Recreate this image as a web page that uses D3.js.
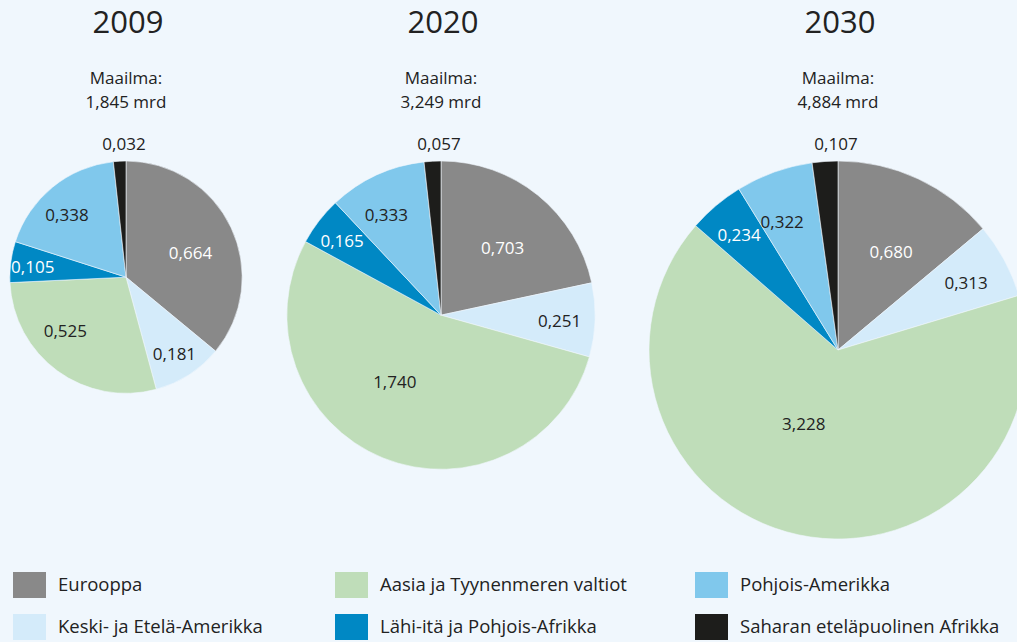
<!DOCTYPE html>
<html>
<head>
<meta charset="utf-8">
<script src="https://cdn.jsdelivr.net/npm/d3@7"></script>
<style>
  html, body { margin: 0; padding: 0; background: #f0f7fd; }
  svg { display: block; font-family: "Open Sans", "Noto Sans", sans-serif; }
</style>
</head>
<body>
<div id="chart"></div>
<script>
// Data (mrd), slices in clockwise order from 12 o'clock
const years = ['2009', '2020', '2030'];
const regions = [
  'Eurooppa',
  'Keski- ja Etelä-Amerikka',
  'Aasia ja Tyynenmeren valtiot',
  'Lähi-itä ja Pohjois-Afrikka',
  'Pohjois-Amerikka',
  'Saharan eteläpuolinen Afrikka',
];
const values2009 = [0.664, 0.181, 0.525, 0.105, 0.338, 0.032];
const values2020 = [0.703, 0.251, 1.740, 0.165, 0.333, 0.057];
const values2030 = [0.680, 0.313, 3.228, 0.234, 0.322, 0.107];
const totals = ['1,845', '3,249', '4,884'];
const series = [values2009, values2020, values2030];

const regionColors = ['#898989', '#d4ebfa', '#bfddb9', '#0088c4', '#80c8ec', '#1d1d1b'];
const labelColors = ['#ffffff', '#222222', '#222222', '#ffffff', '#222222', '#222222'];
// label placement per region: share of radius (or fixed px when > 1), angle shift
const labelRadius = [0.6, 0.77, 80, 0.81, 0.75, 0];
const labelShift = [0.05, 0, 0.23, 0, -0.06, 0];

const W = 1017, H = 642;
const svg = d3.select('#chart').append('svg').attr('width', W).attr('height', H);

const fmt = (v) => d3.format('.3f')(v).replace('.', ',');

const sums = series.map((s) => d3.sum(s));
const rScale = d3.scaleSqrt().domain([0, d3.max(sums)]).range([0, 189]);
const xCenter = d3.scaleOrdinal().domain(years).range([126, 441, 838]);
const topY = 161;

const pie = d3.pie().sort(null).value((d) => d);

years.forEach((year, yi) => {
  const r = rScale(sums[yi]);
  const cx = xCenter(year);
  const cy = topY + r;

  svg.append('text')
    .attr('x', cx + 2).attr('y', 33)
    .attr('text-anchor', 'middle')
    .attr('font-size', 31)
    .attr('fill', '#222')
    .text(year);

  svg.append('text')
    .attr('x', cx).attr('y', 84)
    .attr('text-anchor', 'middle')
    .attr('font-size', 17)
    .attr('fill', '#222')
    .text('Maailma:');

  svg.append('text')
    .attr('x', cx).attr('y', 108)
    .attr('text-anchor', 'middle')
    .attr('font-size', 17)
    .attr('fill', '#222')
    .text(totals[yi] + ' mrd');

  const g = svg.append('g').attr('transform', `translate(${cx},${cy})`);
  const arcs = pie(series[yi]);
  const arc = d3.arc().innerRadius(0).outerRadius(r);

  g.selectAll('path')
    .data(arcs)
    .enter()
    .append('path')
    .attr('d', arc)
    .attr('fill', (d, i) => regionColors[i])
    .attr('stroke', '#f0f7fd')
    .attr('stroke-width', 0.6);

  g.selectAll('text.val')
    .data(arcs)
    .enter()
    .append('text')
    .attr('class', 'val')
    .attr('text-anchor', 'middle')
    .attr('dy', '0.35em')
    .attr('font-size', 17)
    .attr('fill', (d, i) => labelColors[i])
    .attr('transform', (d, i) => {
      if (labelRadius[i] === 0) {
        // tiny slice: label above the pie
        return `translate(-2,${-r - 17})`;
      }
      const a = (d.startAngle + d.endAngle) / 2 + labelShift[i];
      const rr = labelRadius[i] > 1 ? labelRadius[i] : r * labelRadius[i];
      return `translate(${Math.sin(a) * rr},${-Math.cos(a) * rr + 2})`;
    })
    .text((d) => fmt(d.data));
});

// Legend: three columns of two rows
const legendX = [13, 335, 695];
const legendY = [572, 614];
const legend = svg.append('g');
regions.forEach((name, i) => {
  const col = Math.floor(i / 2);
  const row = i % 2;
  legend.append('rect')
    .attr('x', legendX[col]).attr('y', legendY[row])
    .attr('width', 33).attr('height', 26)
    .attr('fill', regionColors[i]);
  legend.append('text')
    .attr('x', legendX[col] + 45).attr('y', legendY[row] + 13)
    .attr('dy', '0.35em')
    .attr('font-size', 18.5)
    .attr('fill', '#222')
    .text(name);
});
</script>
</body>
</html>
